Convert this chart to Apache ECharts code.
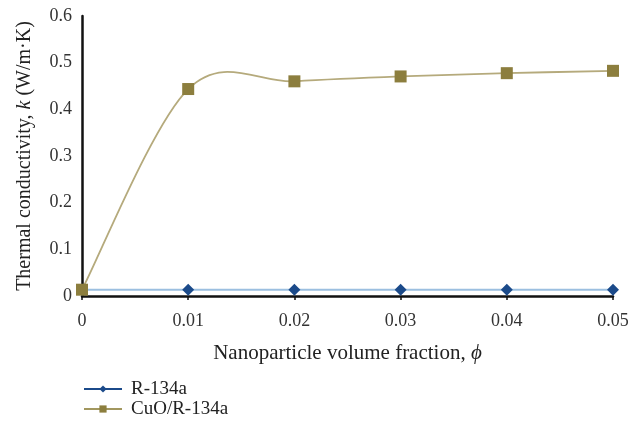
<!DOCTYPE html>
<html><head><meta charset="utf-8">
<script src="https://cdn.jsdelivr.net/npm/echarts@6/dist/echarts.min.js"></script>
<style>html,body{margin:0;padding:0;background:#fff}#c{width:643px;height:425px}</style>
</head><body><div id="c"></div>
<script>
var phi = [0, 0.01, 0.02, 0.03, 0.04, 0.05];
var r134a = [0.0135, 0.0135, 0.0135, 0.0135, 0.0135, 0.0135];
var cuo = [0.0135, 0.4435, 0.4600, 0.4705, 0.4775, 0.4825];
var seriesNames = ['R-134a', 'CuO/R-134a'];

function pairs(xs, ys){ return xs.map(function(x,i){ return [x, ys[i]]; }); }
var F = 'Liberation Serif';
var CUO_LINE = '#b5aa7c', CUO_MARK = '#8c7e3e';
var R_LINE = '#9bbfe0', R_MARK = '#1b4a8a';

// Smoothed (Catmull-Rom style) segment between consecutive data points, positioned via api.coord
function smoothSegment(xs, ys, color){
  return function(params, api){
    var n = xs.length, i = params.dataIndex;
    if (i === 0) return null;
    function P(j){ j = Math.max(0, Math.min(n - 1, j)); return api.coord([xs[j], ys[j]]); }
    var p0 = P(i - 2), p1 = P(i - 1), p2 = P(i), p3 = P(i + 1);
    var c1 = [p1[0] + (p2[0] - p0[0]) / 6, p1[1] + (p2[1] - p0[1]) / 6];
    var c2 = [p2[0] - (p3[0] - p1[0]) / 6, p2[1] - (p3[1] - p1[1]) / 6];
    return {
      type: 'bezierCurve',
      shape: { x1: p1[0], y1: p1[1], x2: p2[0], y2: p2[1], cpx1: c1[0], cpy1: c1[1], cpx2: c2[0], cpy2: c2[1] },
      style: { stroke: color, lineWidth: 1.8, fill: null }
    };
  };
}

var nameRich = { n: { fontFamily: F, fontSize: 21, color: '#222' }, i: { fontFamily: F, fontSize: 21, fontStyle: 'italic', color: '#222' } };
var nameRichY = { n: { fontFamily: F, fontSize: 20, color: '#222' }, i: { fontFamily: F, fontSize: 20, fontStyle: 'italic', color: '#222' } };

var chart = echarts.init(document.getElementById('c'));
chart.setOption({
  animation: false,
  backgroundColor: '#fff',
  grid: { left: 82, right: 30, top: 16, bottom: 129 },
  textStyle: { fontFamily: F },
  xAxis: {
    type: 'value', min: 0, max: 0.05, interval: 0.01,
    name: '{n|Nanoparticle volume fraction, }{i|ϕ}',
    nameLocation: 'middle', nameGap: 47,
    nameTextStyle: { rich: nameRich },
    axisLine: { lineStyle: { color: '#111', width: 2.5 } },
    axisTick: { show: true, length: 4, lineStyle: { color: '#111', width: 1.5 } },
    axisLabel: { fontFamily: F, fontSize: 18, color: '#333', margin: 16 },
    splitLine: { show: false }
  },
  yAxis: {
    type: 'value', min: 0, max: 0.6, interval: 0.1,
    name: '{n|Thermal conductivity, }{i|k}{n| (W/m·K)}',
    nameLocation: 'middle', nameGap: 47, nameRotate: 90,
    nameTextStyle: { rich: nameRichY },
    axisLine: { show: true, lineStyle: { color: '#111', width: 2.5 } },
    axisTick: { show: false },
    axisLabel: { fontFamily: F, fontSize: 18, color: '#333', margin: 10 },
    splitLine: { show: false }
  },
  legend: {
    orient: 'vertical', left: 78, top: 374, itemGap: 0, itemWidth: 38, itemHeight: 9,
    textStyle: { fontFamily: F, fontSize: 19, color: '#222', lineHeight: 20, padding: [0, 0, 0, 4] },
    data: [
      { name: seriesNames[0], lineStyle: { color: R_MARK, width: 2, opacity: 1 } },
      { name: seriesNames[1], lineStyle: { color: '#a2975f', width: 2, opacity: 1 } }
    ]
  },
  series: [
    {
      name: seriesNames[0], type: 'line', data: pairs(phi, r134a),
      symbol: 'diamond', symbolSize: 12,
      itemStyle: { color: R_MARK },
      lineStyle: { color: R_LINE, width: 2 },
      z: 3
    },
    {
      type: 'custom', name: 'cuo-curve', silent: true,
      data: pairs(phi, cuo), encode: { x: 0, y: 1 },
      renderItem: smoothSegment(phi, cuo, CUO_LINE),
      z: 2
    },
    {
      name: seriesNames[1], type: 'line', data: pairs(phi, cuo),
      symbol: 'rect', symbolSize: 12,
      itemStyle: { color: CUO_MARK },
      lineStyle: { color: CUO_LINE, width: 1.8, opacity: 0 },
      z: 4
    }
  ]
});
</script></body></html>
